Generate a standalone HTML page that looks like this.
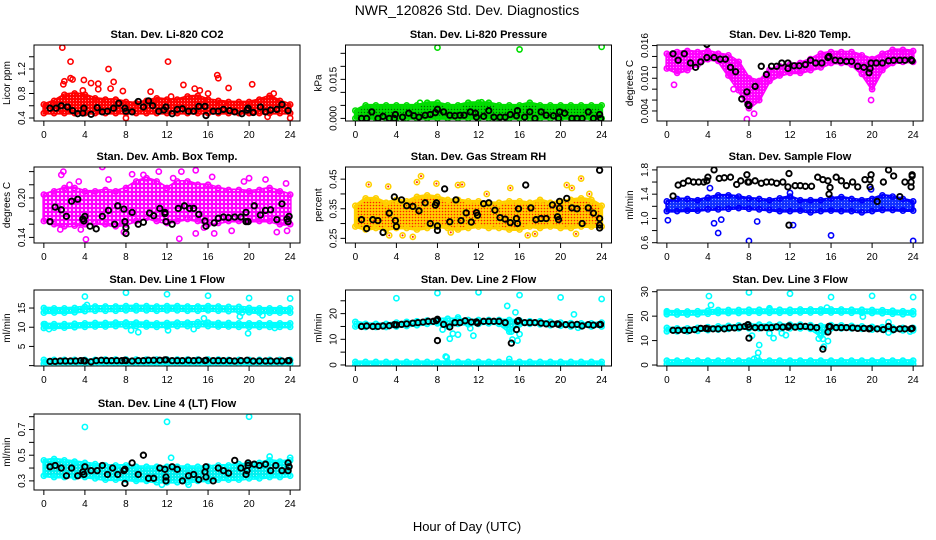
<!DOCTYPE html>
<html><head><meta charset="utf-8">
<style>
html,body{margin:0;padding:0;background:#fff;}
svg{display:block;font-family:"Liberation Sans",sans-serif;}
</style></head>
<body>
<svg id="chart" width="936" height="540" viewBox="0 0 936 540" xmlns="http://www.w3.org/2000/svg">
<defs>
<pattern id="pat-dark" width="3" height="3" patternUnits="userSpaceOnUse"><circle cx="1.5" cy="1.5" r="0.6" fill="#fff" opacity="0.55"/></pattern>
<pattern id="pat-light" width="4" height="4" patternUnits="userSpaceOnUse"><circle cx="2" cy="2" r="1.1" fill="#fff" opacity="0.9"/></pattern>
<pattern id="pat-green" width="3" height="3" patternUnits="userSpaceOnUse"><rect width="3" height="3" fill="#00dd00"/><circle cx="1.5" cy="1.5" r="0.7" fill="#006600"/></pattern>
<pattern id="pat-rh" width="3" height="3" patternUnits="userSpaceOnUse"><rect width="3" height="3" fill="#ffd000"/><circle cx="1.5" cy="1.5" r="0.8" fill="#ff2000"/></pattern>
</defs>
<rect width="936" height="540" fill="#fff"/>
<text x="467" y="15" font-size="14" text-anchor="middle">NWR_120826  Std. Dev. Diagnostics</text>
<text x="467" y="531" font-size="13" text-anchor="middle">Hour of Day (UTC)</text>
</svg>
<script>
// ---- Panel 1: CO2 ----
const co2BandLo = [0.48,0.48,0.48,0.48,0.48,0.48,0.48,0.48,0.48,0.48,0.48,0.48,0.48,0.48,0.48,0.48,0.48,0.48,0.48,0.48,0.48,0.48,0.48,0.48,0.48];
const co2BandHi = [0.62,0.68,0.78,0.80,0.78,0.72,0.70,0.70,0.66,0.64,0.68,0.72,0.70,0.70,0.75,0.76,0.70,0.68,0.66,0.66,0.66,0.70,0.76,0.68,0.62];
const co2Outliers = [[1.8,1.55],[1.9,0.95],[2.0,1.0],[2.6,1.05],[2.6,1.32],[2.8,1.03],[3.8,0.85],[3.9,1.02],[4.6,0.97],[5.3,0.96],[5.3,0.87],[6.3,1.2],[6.5,0.88],[6.8,0.99],[7.7,0.84],[8.0,0.4],[10.4,0.83],[12.1,1.32],[13.6,0.94],[14.7,0.88],[15.2,0.85],[16.9,1.1],[17.0,1.05],[18.0,0.89],[20.3,0.95],[21.8,0.42],[22.4,0.8],[24.0,0.4],[12.4,0.75],[16.0,0.8]];
const co2Black = [[0.6,0.56],[1.2,0.56],[1.7,0.60],[2.3,0.58],[2.8,0.52],[3.3,0.47],[3.8,0.48],[3.9,0.56],[4.6,0.46],[5.2,0.57],[5.7,0.50],[6.2,0.51],[6.8,0.56],[7.3,0.64],[7.9,0.56],[8.0,0.51],[8.6,0.50],[9.2,0.67],[9.7,0.58],[10.2,0.68],[10.6,0.60],[11.2,0.51],[11.7,0.53],[11.9,0.58],[12.5,0.47],[13.0,0.54],[13.5,0.55],[14.1,0.51],[14.6,0.51],[15.1,0.59],[15.7,0.59],[15.8,0.44],[16.5,0.51],[17.0,0.51],[17.5,0.54],[18.1,0.52],[18.6,0.50],[19.3,0.47],[19.8,0.53],[19.9,0.56],[20.4,0.49],[21.1,0.58],[21.6,0.50],[22.1,0.53],[22.7,0.54],[23.2,0.62],[23.8,0.52]];
// ---- Panel 2: Pressure ----
const presBandLo = [0,0,0,0,0,0,0,0,0,0,0,0,0,0,0,0,0,0,0,0,0,0,0,0,0];
const presBandHi = [0.003,0.005,0.005,0.005,0.005,0.005,0.005,0.006,0.006,0.005,0.005,0.006,0.006,0.006,0.005,0.005,0.005,0.006,0.005,0.005,0.005,0.005,0.005,0.005,0.005];
const presOutliers = [[8.0,0.0272],[16,0.0265],[24,0.0275],[6.3,0.006],[12.3,0.0062]];
const presBlack = [[0.6,0],[1.1,0],[1.6,0.0025],[2.2,0],[2.7,0.0008],[3.3,0],[3.8,0],[3.9,0.0015],[4.6,0.0005],[5.2,0.002],[5.7,0.001],[6.2,0.0005],[6.8,0.0012],[7.3,0.0015],[7.8,0.0022],[8.0,0.0035],[8.6,0.0025],[9.2,0.0012],[9.7,0.001],[10.2,0.0012],[10.6,0.0012],[11.2,0.0025],[11.7,0.002],[11.8,0.0005],[12.5,0.0008],[13.0,0.003],[13.5,0.0005],[14.1,0.0005],[14.6,0.0005],[15.1,0.0015],[15.7,0.001],[15.8,0.003],[16.5,0.0005],[17.0,0.0025],[17.5,0],[18.1,0.0025],[18.6,0.0012],[19.3,0.001],[19.8,0],[19.9,0.0025],[20.4,0.002],[21.1,0],[21.6,0],[22.1,0],[22.7,0.0025],[23.2,0],[23.8,0.0015],[23.9,0]];
// ---- Panel 3: Li-820 Temp ----
const tempBandLo = [0.0118,0.011,0.0115,0.0125,0.0135,0.0132,0.0105,0.0078,0.0045,0.006,0.0095,0.0105,0.011,0.011,0.0115,0.012,0.0128,0.0128,0.0125,0.0108,0.008,0.0115,0.0128,0.013,0.013];
const tempBandHi = [0.0145,0.0148,0.015,0.0148,0.015,0.0145,0.0142,0.013,0.010,0.0095,0.0115,0.0122,0.0125,0.0128,0.0135,0.0145,0.0148,0.0148,0.0148,0.0142,0.0135,0.0145,0.0152,0.0152,0.015];
const tempOutliers = [[7.8,0.0025],[8.5,0.0035],[0.7,0.0088],[19.9,0.006],[6.5,0.008]];
const tempBlack = [[0.6,0.0145],[1.1,0.0133],[1.7,0.0145],[2.3,0.0128],[2.8,0.012],[3.3,0.013],[3.9,0.0162],[3.9,0.0138],[4.6,0.0138],[5.2,0.0135],[5.7,0.0135],[6.2,0.012],[6.7,0.0112],[7.3,0.0062],[7.8,0.0075],[7.9,0.0052],[8.0,0.005],[8.6,0.0085],[9.2,0.0122],[9.7,0.0107],[10.2,0.0122],[10.7,0.0122],[11.2,0.0128],[11.8,0.0128],[11.8,0.0118],[12.4,0.0123],[12.9,0.0123],[13.5,0.0125],[14.0,0.0133],[14.5,0.0128],[15.1,0.0128],[15.7,0.0138],[15.8,0.014],[16.4,0.0133],[16.9,0.0132],[17.5,0.0131],[18.0,0.0131],[18.6,0.0122],[19.2,0.012],[19.7,0.011],[19.8,0.0118],[19.9,0.0128],[20.4,0.0128],[21.0,0.0128],[21.6,0.0132],[22.1,0.0133],[22.7,0.0133],[23.2,0.0133],[23.8,0.0134],[23.9,0.0132]];
// ---- Panel 4: Amb Box Temp ----
const ambBandLo = [0.165,0.16,0.157,0.158,0.16,0.162,0.16,0.157,0.16,0.165,0.17,0.165,0.162,0.165,0.168,0.165,0.16,0.162,0.165,0.165,0.165,0.165,0.165,0.16,0.16];
const ambBandHi = [0.205,0.21,0.215,0.215,0.21,0.21,0.212,0.21,0.215,0.225,0.23,0.225,0.215,0.225,0.225,0.22,0.22,0.215,0.212,0.212,0.21,0.212,0.215,0.21,0.205];
const ambOutliers = [[1.7,0.235],[1.9,0.24],[2.5,0.22],[3.4,0.225],[5.7,0.247],[6.3,0.228],[8.6,0.236],[9.7,0.235],[11.2,0.24],[12.6,0.23],[13.4,0.24],[14.8,0.242],[16.4,0.232],[19.5,0.225],[20.0,0.23],[21.6,0.228],[23.6,0.222],[4.1,0.137],[13.2,0.138],[14.8,0.146],[16.6,0.146],[18.3,0.15],[22.7,0.148],[23.7,0.15],[7.8,0.148],[3.6,0.152],[1.6,0.152],[15.6,0.155]];
const ambBlack = [[0.6,0.164],[1.1,0.186],[1.7,0.182],[2.2,0.172],[2.7,0.195],[3.3,0.198],[3.8,0.168],[3.9,0.165],[4.0,0.172],[4.5,0.157],[5.1,0.153],[5.7,0.172],[6.3,0.181],[6.9,0.16],[7.2,0.188],[7.8,0.183],[7.9,0.164],[8.0,0.155],[8.0,0.146],[8.6,0.178],[9.2,0.16],[9.7,0.163],[10.3,0.177],[10.7,0.173],[11.3,0.184],[11.8,0.178],[11.8,0.176],[11.9,0.164],[12.5,0.16],[13.1,0.184],[13.7,0.188],[14.2,0.184],[14.6,0.184],[15.1,0.175],[15.7,0.165],[15.8,0.157],[16.6,0.162],[17.0,0.169],[17.5,0.171],[18.0,0.17],[18.6,0.171],[19.2,0.171],[19.7,0.178],[19.7,0.164],[19.9,0.164],[20.5,0.188],[21.1,0.174],[21.6,0.181],[22.1,0.182],[22.7,0.167],[23.2,0.191],[23.7,0.168],[23.8,0.164],[23.9,0.172]];
// ---- Panel 5: Gas Stream RH ----
const rhBandLo = [0.29,0.28,0.285,0.28,0.285,0.285,0.28,0.285,0.29,0.285,0.28,0.285,0.29,0.285,0.285,0.28,0.28,0.29,0.285,0.29,0.285,0.285,0.29,0.29,0.29];
const rhBandHi = [0.36,0.385,0.385,0.37,0.38,0.375,0.39,0.395,0.39,0.38,0.38,0.375,0.375,0.37,0.37,0.375,0.375,0.37,0.38,0.37,0.375,0.38,0.385,0.38,0.36];
const rhOutliers = [[1.3,0.432],[3.2,0.425],[3.3,0.26],[4.6,0.26],[5.6,0.255],[6.0,0.44],[6.4,0.46],[7.9,0.435],[9.3,0.27],[10.0,0.43],[10.4,0.432],[15.1,0.42],[16.8,0.26],[17.5,0.265],[20.6,0.43],[21.1,0.42],[22.0,0.452],[21.5,0.265],[12.8,0.4],[22.8,0.4]];
const rhBlack = [[0.6,0.313],[1.1,0.283],[1.7,0.313],[2.2,0.31],[2.7,0.27],[3.3,0.335],[3.8,0.39],[3.9,0.31],[4.0,0.29],[4.5,0.38],[5.0,0.36],[5.6,0.358],[6.2,0.343],[6.8,0.37],[7.3,0.3],[7.8,0.362],[7.9,0.37],[8.0,0.292],[8.0,0.277],[8.7,0.417],[9.2,0.306],[9.8,0.38],[10.3,0.31],[10.8,0.336],[11.3,0.305],[11.8,0.337],[11.9,0.328],[12.5,0.367],[13.0,0.37],[13.6,0.345],[14.1,0.32],[14.6,0.315],[15.1,0.303],[15.7,0.317],[15.8,0.3],[15.9,0.35],[16.6,0.43],[17.1,0.353],[17.6,0.313],[18.1,0.317],[18.6,0.317],[19.2,0.363],[19.7,0.323],[19.8,0.313],[19.9,0.352],[19.9,0.375],[20.6,0.385],[21.1,0.353],[21.6,0.35],[22.1,0.3],[22.7,0.353],[23.2,0.335],[23.8,0.317],[23.8,0.295],[23.8,0.285],[23.8,0.48]];
// ---- Panel 6: Sample Flow ----
const sfBandLo = [1.12,1.12,1.13,1.13,1.15,1.15,1.16,1.17,1.16,1.15,1.14,1.12,1.12,1.13,1.1,1.12,1.13,1.12,1.12,1.1,1.12,1.14,1.14,1.13,1.13];
const sfBandHi = [1.28,1.32,1.32,1.3,1.34,1.38,1.38,1.36,1.33,1.32,1.3,1.33,1.36,1.3,1.3,1.3,1.33,1.35,1.32,1.3,1.32,1.38,1.36,1.32,1.28];
const sfOutliers = [[0.1,0.97],[4.2,1.5],[4.6,0.92],[5.0,0.76],[5.3,0.98],[8.0,0.63],[8.8,0.95],[12.3,0.89],[16.0,0.72],[24.0,0.63],[19.9,1.48],[12,1.42]];
const sfBlack = [[0.6,1.37],[1.1,1.55],[1.6,1.58],[2.1,1.62],[2.6,1.6],[3.1,1.6],[3.6,1.6],[3.9,1.62],[4.0,1.68],[4.6,1.8],[5.1,1.66],[5.6,1.67],[6.2,1.68],[6.8,1.56],[7.2,1.62],[7.8,1.72],[7.9,1.6],[8.0,1.6],[8.6,1.62],[9.2,1.58],[9.7,1.6],[10.2,1.6],[10.7,1.58],[11.3,1.6],[11.8,1.52],[11.9,1.74],[11.9,0.89],[12.5,1.54],[13.0,1.54],[13.5,1.53],[14.1,1.53],[14.7,1.68],[15.2,1.64],[15.7,1.62],[15.8,1.4],[15.9,1.51],[16.5,1.68],[17.0,1.62],[17.5,1.54],[18.1,1.6],[18.6,1.52],[19.3,1.64],[19.8,1.64],[19.8,1.52],[19.9,1.72],[20.5,1.28],[21.1,1.6],[21.6,1.8],[22.1,1.7],[22.7,1.36],[23.2,1.6],[23.8,1.6],[23.8,1.52],[23.9,1.7],[23.9,1.72]];
// ---- Panel 7: Line 1 Flow ----
const l1UpperLo = [13.8,13.8,13.8,13.9,14.2,14.3,14.3,14.3,14.4,14.4,14.4,14.3,14.4,14.4,14.3,14.3,14.4,14.3,14.2,14.2,13.9,13.8,13.8,13.8,13.8];
const l1UpperHi = [15.0,14.9,14.9,15.0,15.3,15.4,15.4,15.4,15.5,15.5,15.5,15.4,15.5,15.5,15.4,15.4,15.5,15.4,15.3,15.3,15.0,14.9,14.9,14.9,14.9];
const l1MidLo = [9.8,9.9,9.9,10.0,10.1,10.2,10.2,10.3,10.3,10.3,10.2,10.1,10.2,10.3,10.3,10.4,10.3,10.2,10.2,10.1,10.1,10.1,10.1,10.1,10.1];
const l1MidHi = [10.8,10.8,10.8,10.9,11.0,11.1,11.1,11.2,11.2,11.2,11.1,11.0,11.1,11.2,11.2,11.3,11.2,11.1,11.1,11.0,11.0,11.0,11.0,11.0,11.0];
const l1LowLo = [0.5,0.5,0.5,0.5,0.5,0.5,0.5,0.5,0.5,0.5,0.5,0.5,0.5,0.5,0.5,0.5,0.5,0.5,0.5,0.5,0.5,0.5,0.5,0.5,0.5];
const l1LowHi = [1.5,1.5,1.5,1.5,1.5,1.5,1.6,1.6,1.6,1.6,1.6,1.6,1.6,1.6,1.6,1.6,1.6,1.6,1.5,1.5,1.5,1.5,1.5,1.5,1.5];
const l1Outliers = [[4.0,18],[8.0,19],[12.0,18.6],[16.0,18.2],[20.0,17.6],[24.0,17.5],[4.2,15.8],[0.1,10.8],[0.5,9.5],[8.0,11.2],[8.5,9.2],[9.2,8.7],[12.1,9.2],[14.6,9.5],[15.6,12.3],[19.1,12.8],[19.9,8.4],[21.3,13.1],[22.5,9.8],[19.3,13.8],[0.1,1.0]];
const l1Black = [[0.6,1.1],[1.1,1.1],[1.6,1.2],[2.1,1.2],[2.6,1.2],[3.1,1.2],[3.6,1.3],[3.9,1.3],[4.0,1.2],[4.6,1.0],[5.1,1.3],[5.6,1.4],[6.1,1.3],[6.6,1.3],[7.1,1.3],[7.6,1.3],[7.9,1.4],[8.0,1.3],[8.6,1.2],[9.2,1.3],[9.7,1.3],[10.2,1.4],[10.7,1.4],[11.3,1.4],[11.8,1.5],[11.9,1.5],[12.5,1.3],[13.0,1.3],[13.5,1.3],[14.1,1.4],[14.6,1.3],[15.1,1.4],[15.7,1.3],[15.8,1.4],[16.5,1.3],[17.0,1.3],[17.5,1.3],[18.1,1.3],[18.6,1.2],[19.2,1.3],[19.8,1.4],[20.4,1.2],[21.0,1.2],[21.6,1.2],[22.1,1.2],[22.7,1.2],[23.2,1.2],[23.8,1.3],[23.9,1.3]];
// ---- Panel 8: Line 2 Flow ----
const l2UpperLo = [15.0,14.8,14.8,14.8,15.0,15.2,15.5,16.0,16.2,15.0,16.0,15.8,16.0,16.2,16.0,13.0,15.8,16.0,15.8,15.5,15.3,15.0,15.0,15.0,15.0];
const l2UpperHi = [16.8,16.0,16.0,16.0,16.5,16.8,17.0,17.3,17.8,18.0,17.8,17.5,17.5,17.5,17.5,17.5,17.3,17.0,17.0,16.8,16.5,16.3,16.2,16.2,16.5];
const l2LowLo = [0,0,0,0,0,0,0,0,0,0,0,0,0,0,0,0,0,0,0,0,0,0,0,0,0];
const l2LowHi = [1.2,1.2,1.2,1.2,1.2,1.2,1.2,1.2,1.2,1.2,1.2,1.2,1.2,1.2,1.2,1.2,1.2,1.2,1.2,1.2,1.2,1.2,1.2,1.2,1.2];
const l2Outliers = [[4.0,26],[8.0,28],[12.0,28.3],[16.0,27.2],[20.0,26.3],[24.0,25.7],[8.8,3.3],[8.9,3],[9.2,10.2],[9.5,12.2],[10.0,11.8],[11.5,11.4],[11.2,14.3],[14.8,23],[15.0,2.3],[15.3,9.9],[15.6,20.5],[15.8,9.5],[16.0,12],[21.3,19.7],[21.7,14.5],[14.8,14.5],[15.2,13],[8.5,13.8],[10.0,18.5]];
const l2Black = [[0.6,15.0],[1.1,15.2],[1.7,15.0],[2.2,15.0],[2.7,15.2],[3.3,15.3],[3.8,15.7],[4.0,15.6],[4.5,15.8],[5.0,16.0],[5.6,16.3],[6.1,16.5],[6.6,16.7],[7.1,17.0],[7.6,17.0],[7.9,17.3],[8.0,17.8],[8.0,9.5],[8.6,15.8],[9.2,14.8],[9.7,16.5],[10.2,16.5],[10.7,17.2],[11.3,16.7],[11.8,16.8],[11.9,16.3],[12.5,17.0],[13.0,17.0],[13.5,17.0],[14.0,17.0],[14.6,16.5],[15.2,8.5],[15.7,13.8],[15.8,17.0],[15.9,17.3],[16.5,16.5],[17.0,16.5],[17.5,16.5],[18.1,16.3],[18.6,16.0],[19.2,15.9],[19.7,16.0],[19.8,15.8],[20.5,15.7],[21.1,15.6],[21.6,15.8],[22.1,15.2],[22.7,15.7],[23.2,15.5],[23.8,15.7],[23.9,15.8]];
// ---- Panel 9: Line 3 Flow ----
const l3UpperLo = [20.8,20.7,20.7,20.8,21,21.3,21.3,21.3,21.4,21.4,21.4,21.4,21.4,21.5,21.5,21.5,21.5,21.5,21.4,21.4,21.3,21.2,21.0,20.8,20.8];
const l3UpperHi = [22.0,21.9,21.9,22.0,22.2,22.5,22.5,22.5,22.6,22.6,22.6,22.6,22.6,22.7,22.7,22.7,22.7,22.7,22.6,22.6,22.5,22.4,22.2,22.0,22.0];
const l3MidLo = [13.8,13.8,13.8,14,14.3,14.5,14.8,15,15,15,15,15,15,15,14.8,12,15,15,15,14.8,14.5,14.5,14.2,14.2,14.2];
const l3MidHi = [15.2,15.0,15.0,15.2,15.5,15.8,16.0,16.2,16.5,16.5,16.5,16.5,16.5,16.5,16.3,16.0,16.3,16.2,16.0,15.8,15.6,15.5,15.3,15.2,15.2];
const l3LowLo = [0.4,0.4,0.4,0.4,0.4,0.4,0.4,0.4,0.4,0.4,0.4,0.4,0.4,0.4,0.4,0.4,0.4,0.4,0.4,0.4,0.4,0.4,0.4,0.4,0.4];
const l3LowHi = [1.8,1.8,1.8,1.8,1.8,1.8,1.8,1.8,1.8,1.8,1.8,1.8,1.8,1.8,1.8,1.8,1.8,1.8,1.8,1.8,1.8,1.8,1.8,1.8,1.8];
const l3Outliers = [[4.1,28.2],[4.3,24.5],[8.0,29.7],[12.0,29.2],[16.0,27.8],[20.0,28.3],[24.0,27.8],[8.3,12],[8.5,2.5],[8.8,3],[8.9,5],[9.0,8.2],[10.0,23.2],[10.0,13],[10.4,11],[11.2,13],[11.6,12.2],[14.8,10.8],[15.2,10.7],[15.3,7.5],[15.6,23.5],[15.7,9.8],[15.5,13.5],[19.1,19.8],[21.6,17.5],[21.6,13.3],[23.7,13.7],[4.1,0.5],[0.0,21.5]];
const l3Black = [[0.6,14.2],[1.1,14.2],[1.7,14.2],[2.2,14.2],[2.7,14.5],[3.3,15],[3.8,15],[4.0,14.8],[4.5,14.8],[5.0,14.8],[5.6,14.8],[6.1,15.2],[6.6,15.2],[7.1,15.5],[7.6,15.8],[7.9,16.5],[8.0,11],[8.0,15.5],[8.6,15.3],[9.2,15.3],[9.7,15.3],[10.2,15.3],[10.7,15.6],[11.3,15.5],[11.8,15.5],[11.9,16.0],[12.5,15.5],[13.0,15.8],[13.5,15.8],[14.0,15.5],[14.6,15.3],[15.2,6.5],[15.7,13.5],[15.8,15.8],[15.9,15.7],[16.5,15.3],[17.0,15.3],[17.5,15.3],[18.1,15.2],[18.6,15.0],[19.2,15.0],[19.7,14.8],[19.8,15.0],[20.5,14.8],[21.1,14.5],[21.6,15.8],[22.1,14.5],[22.7,14.8],[23.2,14.8],[23.8,14.8],[23.9,15]];
// ---- Panel 10: Line 4 (LT) Flow ----
const l4BandLo = [0.34,0.33,0.33,0.33,0.33,0.32,0.31,0.31,0.31,0.3,0.3,0.29,0.29,0.29,0.29,0.3,0.3,0.31,0.31,0.31,0.32,0.32,0.33,0.33,0.34];
const l4BandHi = [0.46,0.47,0.46,0.45,0.44,0.43,0.42,0.42,0.42,0.41,0.41,0.41,0.41,0.41,0.41,0.41,0.41,0.42,0.42,0.43,0.43,0.44,0.46,0.45,0.46];
const l4Outliers = [[4.0,0.72],[12.0,0.76],[20.0,0.8],[12.4,0.48],[22.0,0.49],[24.0,0.48],[11.5,0.27],[14.1,0.27]];
const l4Black = [[0.6,0.41],[1.1,0.42],[1.7,0.4],[2.2,0.34],[2.7,0.4],[3.3,0.34],[3.8,0.37],[3.9,0.35],[4.0,0.41],[4.6,0.38],[5.2,0.38],[5.7,0.42],[6.2,0.35],[6.7,0.4],[7.2,0.35],[7.8,0.38],[7.9,0.39],[7.9,0.28],[8.6,0.44],[9.2,0.35],[9.7,0.5],[10.2,0.32],[10.7,0.32],[11.3,0.4],[11.8,0.39],[11.9,0.33],[11.9,0.3],[12.5,0.41],[13.0,0.39],[13.5,0.3],[14.1,0.34],[14.6,0.35],[15.1,0.31],[15.7,0.37],[15.8,0.41],[15.8,0.33],[16.5,0.3],[17.0,0.4],[17.5,0.38],[18.0,0.36],[18.6,0.46],[19.2,0.4],[19.7,0.35],[19.8,0.38],[19.9,0.44],[19.9,0.42],[20.5,0.43],[21.0,0.42],[21.6,0.43],[22.1,0.38],[22.6,0.42],[23.2,0.38],[23.8,0.38],[23.8,0.44],[23.9,0.41]];

const xTicks = [0,4,8,12,16,20,24];
const bandHours = [0,1,2,3,4,5,6,7,8,9,10,11,12,13,14,15,16,17,18,19,20,21,22,23,24];

const svg = document.getElementById('chart');
const NS = 'http://www.w3.org/2000/svg';
function mk(tag, attrs, parent){const e=document.createElementNS(NS,tag);for(const k in attrs)e.setAttribute(k,attrs[k]);(parent||svg).appendChild(e);return e;}

const colL=[34,345.5,657], rowT=[45,167,290,414], W=266, H=76;
const panels = [
 {key:'co2',title:'Stan. Dev. Li-820 CO2',ylab:'Licor ppm',c:0,r:0,y0:0.351,y1:1.592,ticks:[0.4,0.6,0.8,1.0,1.2,1.4],labels:[[0.4,'0.4'],[0.8,'0.8'],[1.2,'1.2']],color:'#ff0000',fill:'#ff0000',tex:'url(#pat-dark)',bands:[[co2BandLo,co2BandHi]],out:co2Outliers,blk:co2Black},
 {key:'pressure',title:'Stan. Dev. Li-820 Pressure',ylab:'kPa',c:1,r:0,y0:-0.001,y1:0.0282,ticks:[0,0.005,0.01,0.015,0.02,0.025],labels:[[0,'0.000'],[0.015,'0.015']],color:'#00dd00',fill:'url(#pat-green)',bands:[[presBandLo,presBandHi]],out:presOutliers,blk:presBlack},
 {key:'li820-temp',title:'Stan. Dev. Li-820 Temp.',ylab:'degrees C',c:2,r:0,y0:0.00216,y1:0.0161,ticks:[0.004,0.006,0.008,0.010,0.012,0.014,0.016],labels:[[0.004,'0.004'],[0.010,'0.010'],[0.016,'0.016']],color:'#ff00ff',fill:'#ff00ff',tex:'url(#pat-dark)',bands:[[tempBandLo,tempBandHi]],out:tempOutliers,blk:tempBlack},
 {key:'amb-box-temp',title:'Stan. Dev. Amb. Box Temp.',ylab:'degrees C',c:0,r:1,y0:0.1315,y1:0.247,ticks:[0.14,0.16,0.18,0.20,0.22,0.24],labels:[[0.14,'0.14'],[0.20,'0.20']],color:'#ff00ff',fill:'#ff00ff',tex:'url(#pat-light)',bands:[[ambBandLo,ambBandHi]],out:ambOutliers,blk:ambBlack},
 {key:'gas-rh',title:'Stan. Dev. Gas Stream RH',ylab:'percent',c:1,r:1,y0:0.2343,y1:0.491,ticks:[0.25,0.30,0.35,0.40,0.45],labels:[[0.25,'0.25'],[0.35,'0.35'],[0.45,'0.45']],color:'#ffd000',fill:'url(#pat-rh)',bands:[[rhBandLo,rhBandHi]],out:rhOutliers,blk:rhBlack,dot:'#ff2000'},
 {key:'sample-flow',title:'Stan. Dev. Sample Flow',ylab:'ml/min',c:2,r:1,y0:0.595,y1:1.848,ticks:[0.6,0.8,1.0,1.2,1.4,1.6,1.8],labels:[[0.6,'0.6'],[1.0,'1.0'],[1.4,'1.4'],[1.8,'1.8']],color:'#0000ff',fill:'#1030ff',tex:'url(#pat-dark)',bands:[[sfBandLo,sfBandHi]],out:sfOutliers,blk:sfBlack},
 {key:'line1-flow',title:'Stan. Dev. Line 1 Flow',ylab:'ml/min',c:0,r:2,y0:-0.1,y1:19.7,ticks:[0,5,10,15],labels:[[5,'5'],[10,'10'],[15,'15']],color:'#00ffff',fill:'#00f0f0',tex:'url(#pat-dark)',bands:[[l1UpperLo,l1UpperHi],[l1MidLo,l1MidHi],[l1LowLo,l1LowHi]],out:l1Outliers,blk:l1Black},
 {key:'line2-flow',title:'Stan. Dev. Line 2 Flow',ylab:'ml/min',c:1,r:2,y0:-0.4,y1:29.2,ticks:[0,5,10,15,20,25],labels:[[0,'0'],[10,'10'],[20,'20']],color:'#00ffff',fill:'#00f0f0',tex:'url(#pat-dark)',bands:[[l2UpperLo,l2UpperHi],[l2LowLo,l2LowHi]],out:l2Outliers,blk:l2Black},
 {key:'line3-flow',title:'Stan. Dev. Line 3 Flow',ylab:'ml/min',c:2,r:2,y0:-0.4,y1:30.7,ticks:[0,10,20,30],labels:[[0,'0'],[10,'10'],[20,'20'],[30,'30']],color:'#00ffff',fill:'#00f0f0',tex:'url(#pat-dark)',bands:[[l3UpperLo,l3UpperHi],[l3MidLo,l3MidHi],[l3LowLo,l3LowHi]],out:l3Outliers,blk:l3Black},
 {key:'line4-flow',title:'Stan. Dev. Line 4 (LT) Flow',ylab:'ml/min',c:0,r:3,y0:0.229,y1:0.821,ticks:[0.3,0.4,0.5,0.6,0.7,0.8],labels:[[0.3,'0.3'],[0.5,'0.5'],[0.7,'0.7']],color:'#00ffff',fill:'#00f0f0',tex:'url(#pat-dark)',bands:[[l4BandLo,l4BandHi]],out:l4Outliers,blk:l4Black}
];

panels.forEach(p=>{
  const L=colL[p.c], T=rowT[p.r];
  const xs=v=>L+(v+0.96)/25.92*W;
  const ys=v=>T+H-(v-p.y0)/(p.y1-p.y0)*H;
  const g=mk('g',{});
  
  
  const clipId='clip-'+p.key;
  const cp=mk('clipPath',{id:clipId},g);
  mk('rect',{x:L,y:T,width:W,height:H},cp);
  const plot=mk('g',{'clip-path':'url(#'+clipId+')'},g);
  
  
  p.bands.forEach((b,bi)=>{
    const lo=b[0], hi=b[1];
    let pts=bandHours.map((h,i)=>xs(h)+','+ys(hi[i]));
    pts=pts.concat(bandHours.slice().reverse().map((h,j)=>{const i=bandHours.length-1-j;return xs(h)+','+ys(lo[i]);}));
    const poly=mk('polygon',{points:pts.join(' '),fill:p.fill,stroke:p.color,'stroke-width':3,'stroke-linejoin':'round'},plot);
    
    
    if(p.tex){const ov=mk('polygon',{points:pts.join(' '),fill:p.tex},plot);
      
      }
    bandHours.forEach((h,i)=>{
      [hi[i],lo[i]].forEach(v=>{
        const c=mk('circle',{cx:xs(h),cy:ys(v),r:2.6,fill:'none',stroke:p.color,'stroke-width':1.6},plot);
        
        
      });
    });
  });
  p.out.forEach(d=>{
    const c=mk('circle',{cx:xs(d[0]),cy:ys(d[1]),r:2.6,fill:'none',stroke:p.color,'stroke-width':1.6},plot);
    
    
    if(p.dot){const dd=mk('circle',{cx:xs(d[0]),cy:ys(d[1]),r:1,fill:p.dot},plot);
      
      }
  });
  p.blk.forEach(d=>{
    const c=mk('circle',{cx:xs(d[0]),cy:ys(d[1]),r:2.7,fill:'none',stroke:'#000','stroke-width':1.9},plot);
    
    
  });
  const box=mk('rect',{x:L,y:T,width:W,height:H,fill:'none',stroke:'#000','stroke-width':1},g);
  
  
  const tt=mk('text',{x:L+W/2,y:T-7,'font-size':11,'font-weight':'bold','text-anchor':'middle'},g);
  tt.textContent=p.title;
  
  
  xTicks.forEach(v=>{
    const x=xs(v);
    const tk=mk('line',{x1:x,x2:x,y1:T+H,y2:T+H+5,stroke:'#000'},g);
    
    
    const tl=mk('text',{x:x,y:T+H+17,'font-size':10,'text-anchor':'middle'},g);
    tl.textContent=v;
    
    
  });
  p.ticks.forEach(v=>{
    const y=ys(v);
    const tk=mk('line',{x1:L-5,x2:L,y1:y,y2:y,stroke:'#000'},g);
    
    
  });
  p.labels.forEach(lb=>{
    const y=ys(lb[0]);
    const tl=mk('text',{x:L-9,y:y,'font-size':10,'text-anchor':'middle',transform:'rotate(-90 '+(L-9)+' '+y+')'},g);
    tl.textContent=lb[1];
    
    
  });
  const yl=mk('text',{x:L-24,y:T+H/2,'font-size':10,'text-anchor':'middle',transform:'rotate(-90 '+(L-24)+' '+(T+H/2)+')'},g);
  yl.textContent=p.ylab;
  
  
});
</script>
</body></html>
